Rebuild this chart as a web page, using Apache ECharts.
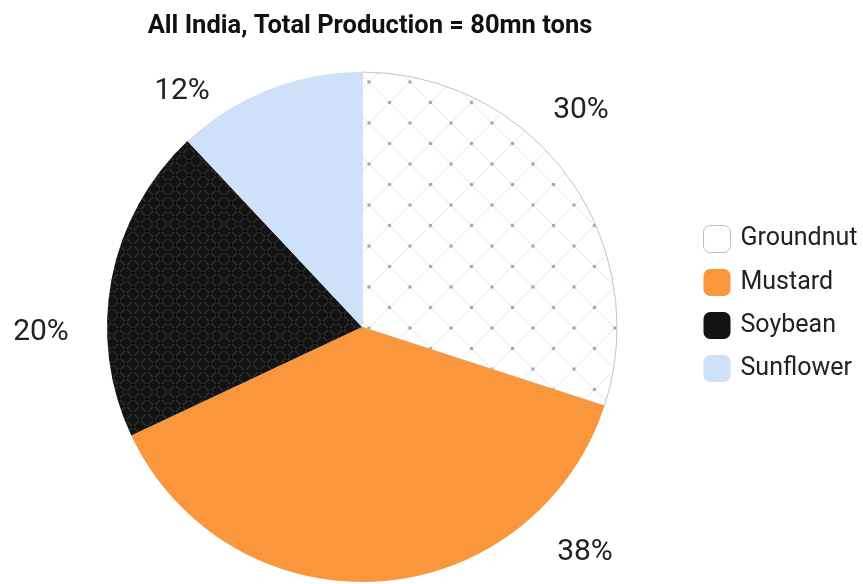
<!DOCTYPE html>
<html>
<head>
<meta charset="utf-8">
<script src="https://cdn.jsdelivr.net/npm/echarts@6/dist/echarts.min.js"></script>
<style>
  html, body { margin: 0; padding: 0; background: #ffffff; }
  #chart { width: 863px; height: 584px; }
</style>
</head>
<body>
<div id="chart"></div>
<script>
// Oilseed production share, All India
const crops = ['Groundnut', 'Mustard', 'Soybean', 'Sunflower'];
const shares = [30, 38, 20, 12];
const cropColors = ['#ffffff', '#fa963b', '#131313', '#cfe1f8'];

// Lattice fill: diagonal grid lines with dots at the crossings
function latticePattern(size, bg, line, lineW, dot, dotR) {
  const c = document.createElement('canvas');
  c.width = size; c.height = size;
  const g = c.getContext('2d');
  g.fillStyle = bg;
  g.fillRect(0, 0, size, size);
  g.strokeStyle = line;
  g.lineWidth = lineW;
  g.beginPath();
  g.moveTo(0, 0); g.lineTo(size, size);
  g.moveTo(size, 0); g.lineTo(0, size);
  g.stroke();
  g.fillStyle = dot;
  [[0, 0], [size, 0], [0, size], [size, size], [size / 2, size / 2]].forEach(function (p) {
    g.beginPath();
    g.arc(p[0], p[1], dotR, 0, Math.PI * 2);
    g.fill();
  });
  return c;
}

const fills = [
  { image: latticePattern(41, '#ffffff', '#eeeeee', 1.2, '#a8a8a8', 1.8), repeat: 'repeat' },
  cropColors[1],
  { image: latticePattern(14, '#131313', '#2e2e2e', 1.5, '#0a0a0a', 1.2), repeat: 'repeat' },
  cropColors[3]
];

// Where each percentage label sits
const labelSpots = [[581, 110], [585, 552], [41, 332], [182, 91]];

const chart = echarts.init(document.getElementById('chart'));
chart.setOption({
  animation: false,
  title: {
    text: 'All India, Total Production = 80mn tons',
    left: 365,
    textAlign: 'center',
    top: 9,
    textStyle: { fontFamily: 'Roboto', fontWeight: 'bold', fontSize: 25.5, color: '#111' }
  },
  legend: {
    orient: 'vertical',
    left: 698,
    top: 220,
    icon: 'roundRect',
    itemWidth: 27,
    itemHeight: 27,
    itemGap: 16,
    textStyle: { fontFamily: 'Roboto', fontSize: 25, color: '#222', padding: [0, 0, 0, 5] },
    data: crops.map(function (name, i) {
      return i === 0
        ? { name: name, itemStyle: { color: '#ffffff', borderColor: '#bdbdbd', borderWidth: 1 } }
        : { name: name, itemStyle: { color: cropColors[i] } };
    })
  },
  series: [{
    type: 'pie',
    center: [362, 327],
    radius: [0, 255],
    startAngle: 90,
    clockwise: true,
    data: crops.map(function (name, i) {
      return {
        name: name,
        value: shares[i],
        itemStyle: i === 0
          ? { color: fills[i], borderColor: '#c4c4c4', borderWidth: 1 }
          : { color: fills[i], borderWidth: 0 }
      };
    }),
    label: {
      show: true,
      position: 'outside',
      overflow: 'none',
      width: 80,
      formatter: function (p) { return p.value + '%'; },
      fontFamily: 'Roboto',
      fontSize: 30,
      color: '#222'
    },
    labelLine: { show: false },
    labelLayout: function (p) {
      const s = labelSpots[p.dataIndex];
      return { x: s[0], y: s[1], align: 'center', verticalAlign: 'middle' };
    },
    emphasis: { disabled: true }
  }]
});
</script>
</body>
</html>
